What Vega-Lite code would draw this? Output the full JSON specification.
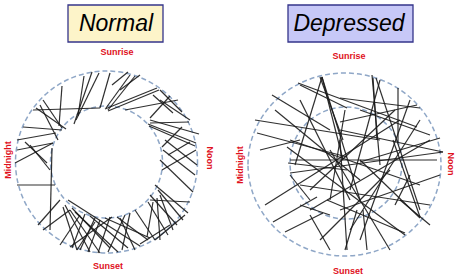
{
  "$schema": "https://vega.github.io/schema/vega-lite/v6.json",
  "width": 460,
  "height": 280,
  "autosize": {"type": "fit", "contains": "padding"},
  "padding": 0,
  "config": {"view": {"stroke": null}},
  "datasets": {
    "segments": [
      {"panel":"Normal","x":92,"y":72,"x2":74,"y2":124},
      {"panel":"Normal","x":99,"y":73,"x2":76,"y2":120},
      {"panel":"Normal","x":62,"y":86,"x2":59,"y2":126},
      {"panel":"Normal","x":43,"y":100,"x2":62,"y2":128},
      {"panel":"Normal","x":33,"y":110,"x2":100,"y2":108},
      {"panel":"Normal","x":36,"y":108,"x2":66,"y2":129},
      {"panel":"Normal","x":110,"y":73,"x2":100,"y2":108},
      {"panel":"Normal","x":130,"y":75,"x2":106,"y2":108},
      {"panel":"Normal","x":135,"y":76,"x2":108,"y2":110},
      {"panel":"Normal","x":157,"y":88,"x2":105,"y2":109},
      {"panel":"Normal","x":159,"y":90,"x2":108,"y2":111},
      {"panel":"Normal","x":160,"y":90,"x2":182,"y2":112},
      {"panel":"Normal","x":125,"y":110,"x2":178,"y2":100},
      {"panel":"Normal","x":153,"y":95,"x2":173,"y2":113},
      {"panel":"Normal","x":170,"y":96,"x2":150,"y2":118},
      {"panel":"Normal","x":150,"y":120,"x2":199,"y2":134},
      {"panel":"Normal","x":148,"y":124,"x2":196,"y2":143},
      {"panel":"Normal","x":149,"y":126,"x2":195,"y2":146},
      {"panel":"Normal","x":150,"y":123,"x2":189,"y2":122},
      {"panel":"Normal","x":112,"y":85,"x2":128,"y2":72},
      {"panel":"Normal","x":120,"y":90,"x2":140,"y2":75},
      {"panel":"Normal","x":84,"y":76,"x2":78,"y2":116},
      {"panel":"Normal","x":23,"y":127,"x2":62,"y2":130},
      {"panel":"Normal","x":17,"y":140,"x2":56,"y2":133},
      {"panel":"Normal","x":17,"y":150,"x2":53,"y2":143},
      {"panel":"Normal","x":25,"y":142,"x2":47,"y2":163},
      {"panel":"Normal","x":15,"y":163,"x2":53,"y2":143},
      {"panel":"Normal","x":30,"y":145,"x2":50,"y2":170},
      {"panel":"Normal","x":17,"y":185,"x2":55,"y2":185},
      {"panel":"Normal","x":52,"y":148,"x2":50,"y2":230},
      {"panel":"Normal","x":43,"y":230,"x2":70,"y2":210},
      {"panel":"Normal","x":40,"y":105,"x2":58,"y2":140},
      {"panel":"Normal","x":63,"y":207,"x2":77,"y2":250},
      {"panel":"Normal","x":65,"y":205,"x2":90,"y2":252},
      {"panel":"Normal","x":70,"y":210,"x2":100,"y2":253},
      {"panel":"Normal","x":72,"y":208,"x2":110,"y2":248},
      {"panel":"Normal","x":75,"y":212,"x2":118,"y2":252},
      {"panel":"Normal","x":80,"y":215,"x2":60,"y2":245},
      {"panel":"Normal","x":85,"y":214,"x2":72,"y2":248},
      {"panel":"Normal","x":90,"y":216,"x2":128,"y2":248},
      {"panel":"Normal","x":95,"y":218,"x2":80,"y2":250},
      {"panel":"Normal","x":100,"y":220,"x2":88,"y2":252},
      {"panel":"Normal","x":68,"y":200,"x2":140,"y2":246},
      {"panel":"Normal","x":60,"y":200,"x2":38,"y2":225},
      {"panel":"Normal","x":105,"y":218,"x2":150,"y2":238},
      {"panel":"Normal","x":110,"y":217,"x2":98,"y2":253},
      {"panel":"Normal","x":117,"y":217,"x2":148,"y2":240},
      {"panel":"Normal","x":120,"y":218,"x2":135,"y2":250},
      {"panel":"Normal","x":125,"y":215,"x2":108,"y2":252},
      {"panel":"Normal","x":70,"y":247,"x2":112,"y2":217},
      {"panel":"Normal","x":77,"y":250,"x2":95,"y2":222},
      {"panel":"Normal","x":130,"y":213,"x2":122,"y2":250},
      {"panel":"Normal","x":135,"y":210,"x2":155,"y2":240},
      {"panel":"Normal","x":147,"y":237,"x2":153,"y2":202},
      {"panel":"Normal","x":160,"y":240,"x2":157,"y2":198},
      {"panel":"Normal","x":173,"y":230,"x2":160,"y2":195},
      {"panel":"Normal","x":188,"y":213,"x2":155,"y2":185},
      {"panel":"Normal","x":190,"y":202,"x2":150,"y2":200},
      {"panel":"Normal","x":193,"y":192,"x2":160,"y2":160},
      {"panel":"Normal","x":195,"y":175,"x2":163,"y2":150},
      {"panel":"Normal","x":197,"y":165,"x2":165,"y2":140},
      {"panel":"Normal","x":183,"y":220,"x2":158,"y2":190},
      {"panel":"Normal","x":177,"y":225,"x2":150,"y2":195},
      {"panel":"Normal","x":168,"y":235,"x2":148,"y2":202},
      {"panel":"Normal","x":190,"y":142,"x2":168,"y2":155},
      {"panel":"Normal","x":182,"y":127,"x2":162,"y2":147},
      {"panel":"Normal","x":196,"y":150,"x2":162,"y2":170},
      {"panel":"Normal","x":160,"y":100,"x2":190,"y2":120},
      {"panel":"Normal","x":155,"y":240,"x2":185,"y2":215},
      {"panel":"Normal","x":140,"y":244,"x2":170,"y2":225},
      {"panel":"Depressed","x":322,"y":77,"x2":295,"y2":165},
      {"panel":"Depressed","x":322,"y":77,"x2":343,"y2":160},
      {"panel":"Depressed","x":322,"y":77,"x2":360,"y2":200},
      {"panel":"Depressed","x":298,"y":83,"x2":417,"y2":127},
      {"panel":"Depressed","x":300,"y":85,"x2":347,"y2":108},
      {"panel":"Depressed","x":257,"y":133,"x2":347,"y2":157},
      {"panel":"Depressed","x":272,"y":95,"x2":330,"y2":130},
      {"panel":"Depressed","x":320,"y":77,"x2":343,"y2":140},
      {"panel":"Depressed","x":373,"y":78,"x2":377,"y2":140},
      {"panel":"Depressed","x":372,"y":75,"x2":380,"y2":165},
      {"panel":"Depressed","x":376,"y":78,"x2":420,"y2":210},
      {"panel":"Depressed","x":398,"y":88,"x2":398,"y2":142},
      {"panel":"Depressed","x":340,"y":98,"x2":420,"y2":108},
      {"panel":"Depressed","x":340,"y":122,"x2":417,"y2":105},
      {"panel":"Depressed","x":340,"y":130,"x2":443,"y2":152},
      {"panel":"Depressed","x":360,"y":162,"x2":440,"y2":138},
      {"panel":"Depressed","x":273,"y":222,"x2":317,"y2":197},
      {"panel":"Depressed","x":285,"y":232,"x2":323,"y2":213},
      {"panel":"Depressed","x":288,"y":163,"x2":347,"y2":170},
      {"panel":"Depressed","x":290,"y":173,"x2":443,"y2":152},
      {"panel":"Depressed","x":290,"y":160,"x2":437,"y2":160},
      {"panel":"Depressed","x":405,"y":235,"x2":287,"y2":147},
      {"panel":"Depressed","x":405,"y":233,"x2":327,"y2":200},
      {"panel":"Depressed","x":420,"y":217,"x2":393,"y2":140},
      {"panel":"Depressed","x":420,"y":218,"x2":360,"y2":160},
      {"panel":"Depressed","x":345,"y":250,"x2":357,"y2":210},
      {"panel":"Depressed","x":347,"y":250,"x2":340,"y2":140},
      {"panel":"Depressed","x":367,"y":250,"x2":363,"y2":210},
      {"panel":"Depressed","x":390,"y":250,"x2":330,"y2":150},
      {"panel":"Depressed","x":300,"y":185,"x2":430,"y2":205},
      {"panel":"Depressed","x":310,"y":190,"x2":395,"y2":110},
      {"panel":"Depressed","x":350,"y":230,"x2":420,"y2":120},
      {"panel":"Depressed","x":255,"y":120,"x2":380,"y2":140},
      {"panel":"Depressed","x":310,"y":210,"x2":430,"y2":140},
      {"panel":"Depressed","x":330,"y":200,"x2":345,"y2":110},
      {"panel":"Depressed","x":290,"y":140,"x2":420,"y2":185},
      {"panel":"Depressed","x":265,"y":205,"x2":400,"y2":120},
      {"panel":"Depressed","x":300,"y":100,"x2":350,"y2":200},
      {"panel":"Depressed","x":380,"y":80,"x2":350,"y2":190},
      {"panel":"Depressed","x":320,"y":240,"x2":390,"y2":170},
      {"panel":"Depressed","x":410,"y":100,"x2":360,"y2":240},
      {"panel":"Depressed","x":275,"y":110,"x2":360,"y2":180},
      {"panel":"Depressed","x":340,"y":210,"x2":440,"y2":175},
      {"panel":"Depressed","x":300,"y":205,"x2":330,"y2":215},
      {"panel":"Depressed","x":290,"y":175,"x2":310,"y2":200},
      {"panel":"Depressed","x":400,"y":200,"x2":430,"y2":225},
      {"panel":"Depressed","x":360,"y":110,"x2":430,"y2":135},
      {"panel":"Depressed","x":330,"y":250,"x2":310,"y2":215},
      {"panel":"Depressed","x":395,"y":205,"x2":410,"y2":175},
      {"panel":"Depressed","x":260,"y":150,"x2":300,"y2":140}
    ],
    "rings": [
      {"panel":"Normal","ring":"outer","x":106.5,"y":162},
      {"panel":"Normal","ring":"inner","x":106.5,"y":162},
      {"panel":"Depressed","ring":"outer","x":344.5,"y":164.5},
      {"panel":"Depressed","ring":"inner","x":346,"y":163}
    ],
    "titles": [
      {"panel":"Normal","x":68,"x2":163,"y":5,"y2":42,"tx":116,"ty":24},
      {"panel":"Depressed","x":288,"x2":413,"y":5,"y2":42,"tx":349,"ty":24}
    ],
    "labels": [
      {"label":"Sunrise","orient":"h","x":117,"y":52},
      {"label":"Sunset","orient":"h","x":108,"y":266},
      {"label":"Midnight","orient":"up","x":8,"y":160},
      {"label":"Noon","orient":"down","x":210,"y":158},
      {"label":"Sunrise","orient":"h","x":349,"y":56},
      {"label":"Sunset","orient":"h","x":348,"y":271},
      {"label":"Midnight","orient":"up","x":240,"y":165},
      {"label":"Noon","orient":"down","x":451,"y":164}
    ]
  },
  "encoding": {
    "x": {"field": "x", "type": "quantitative", "scale": {"domain": [0, 460], "nice": false, "zero": false}, "axis": null},
    "y": {"field": "y", "type": "quantitative", "scale": {"domain": [0, 280], "nice": false, "zero": false, "reverse": true}, "axis": null}
  },
  "layer": [
    {
      "data": {"name": "rings"},
      "transform": [{"filter": "datum.panel === 'Normal' && datum.ring === 'outer'"}],
      "mark": {"type": "point", "shape": "circle", "size": 33124, "filled": false, "stroke": "#8fa7c7", "strokeWidth": 1.5, "strokeDash": [5, 3], "opacity": 1}
    },
    {
      "data": {"name": "rings"},
      "transform": [{"filter": "datum.ring === 'inner'"}],
      "mark": {"type": "point", "shape": "circle", "size": 12544, "filled": false, "stroke": "#8fa7c7", "strokeWidth": 1.5, "strokeDash": [5, 3], "opacity": 1}
    },
    {
      "data": {"name": "rings"},
      "transform": [{"filter": "datum.panel === 'Depressed' && datum.ring === 'outer'"}],
      "mark": {"type": "point", "shape": "M -1 0 A 1 0.948 0 1 1 1 0 A 1 0.948 0 1 1 -1 0 Z", "size": 37249, "filled": false, "stroke": "#8fa7c7", "strokeWidth": 1.5, "strokeDash": [5, 3], "opacity": 1}
    },
    {
      "data": {"name": "segments"},
      "mark": {"type": "rule", "color": "#1a1a1a", "strokeWidth": 1.2, "opacity": 0.9},
      "encoding": {
        "x2": {"field": "x2"},
        "y2": {"field": "y2"}
      }
    },
    {
      "data": {"name": "titles"},
      "mark": {"type": "rect", "stroke": "#35358a", "strokeWidth": 1.3},
      "encoding": {
        "x2": {"field": "x2"},
        "y2": {"field": "y2"},
        "fill": {"field": "panel", "type": "nominal", "scale": {"domain": ["Normal", "Depressed"], "range": ["#fdf4c9", "#c7c8f7"]}, "legend": null}
      }
    },
    {
      "data": {"name": "titles"},
      "mark": {"type": "text", "font": "Liberation Sans", "fontStyle": "italic", "fontSize": 23, "color": "#000000", "align": "center", "baseline": "middle"},
      "encoding": {
        "x": {"field": "tx", "type": "quantitative"},
        "y": {"field": "ty", "type": "quantitative"},
        "text": {"field": "panel"}
      }
    },
    {
      "data": {"name": "labels"},
      "transform": [{"filter": "datum.orient === 'h'"}],
      "mark": {"type": "text", "font": "Liberation Sans", "fontWeight": "bold", "fontSize": 9, "color": "#e0101c", "align": "center", "baseline": "middle"},
      "encoding": {"text": {"field": "label"}}
    },
    {
      "data": {"name": "labels"},
      "transform": [{"filter": "datum.orient === 'up'"}],
      "mark": {"type": "text", "font": "Liberation Sans", "fontWeight": "bold", "fontSize": 9, "color": "#e0101c", "align": "center", "baseline": "middle", "angle": 270},
      "encoding": {"text": {"field": "label"}}
    },
    {
      "data": {"name": "labels"},
      "transform": [{"filter": "datum.orient === 'down'"}],
      "mark": {"type": "text", "font": "Liberation Sans", "fontWeight": "bold", "fontSize": 9, "color": "#e0101c", "align": "center", "baseline": "middle", "angle": 90},
      "encoding": {"text": {"field": "label"}}
    }
  ]
}
